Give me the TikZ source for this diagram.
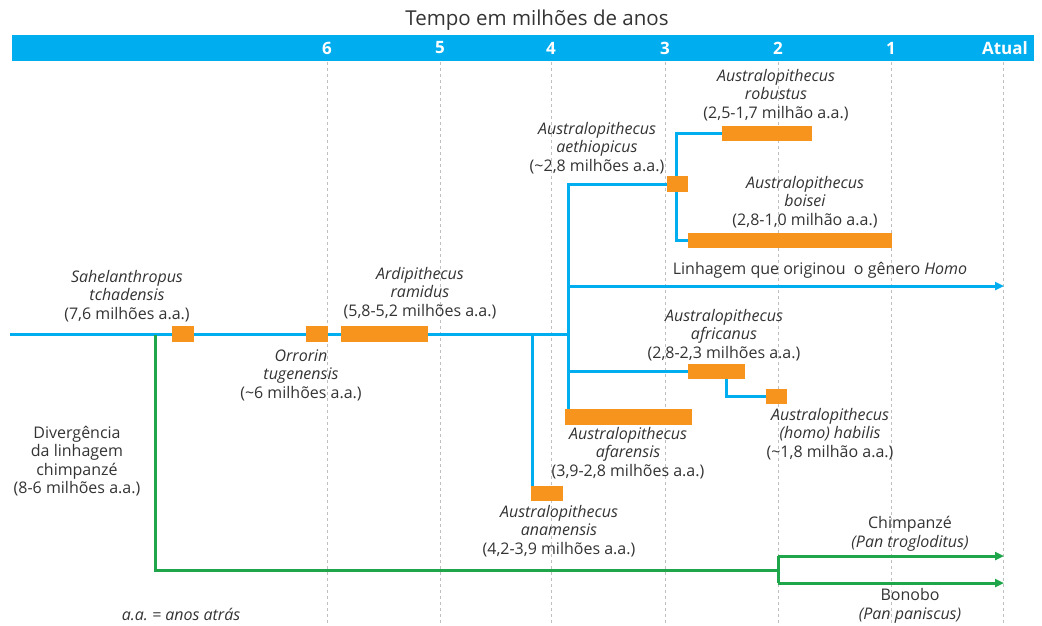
\documentclass[tikz,border=0pt]{standalone}
\usepackage{fontspec}
\setmainfont{Open Sans}
\usetikzlibrary{arrows.meta}
\definecolor{cyanbar}{HTML}{00AEEF}
\definecolor{orangebar}{HTML}{F7941D}
\definecolor{greenline}{HTML}{1FA64A}
\definecolor{txt}{HTML}{333333}
\pgfdeclarelayer{bg}
\pgfsetlayers{bg,main}
\frenchspacing
\begin{document}
\begin{tikzpicture}[x=1pt,y=-1pt,
  bar/.style={fill=orangebar, inner sep=0, minimum height=16pt, draw=none},
  bl/.style={draw=cyanbar, line width=3pt},
  gl/.style={draw=greenline, line width=3pt},
  lbl/.style={align=center, text=txt, inner sep=0, font=\fontsize{16}{18.5}\selectfont},
  tick/.style={text=white, inner sep=0, font=\bfseries\fontsize{17}{18}\selectfont},
  gridline/.style={draw=gray!50, line width=0.9pt, dash pattern=on 3pt off 3pt},
  tip/.style={-{Triangle[length=9pt,width=8pt]}}]
\useasboundingbox (0,0) rectangle (1042,625);

% time axis
\node[fill=cyanbar, minimum width=1022pt, minimum height=26pt, inner sep=0, anchor=north west] (axis) at (12,35) {};
\foreach \x/\t in {327/6,440/5,551/4,665/3,778/2,891/1}
  \node[tick] (t\t) at (\x,48) {\t};
\node[tick, anchor=east] (tA) at (1028,48) {Atual};
\node[lbl, font=\fontsize{20.5}{22}\selectfont] (title) at (537,20) {Tempo em milhões de anos};

% coordinates
\coordinate (start) at (10,334);
\coordinate (split) at (568,334);
\coordinate (vtop) at (568,184);
\coordinate (vbot) at (568,410);
\coordinate (anaTop) at (532,334);
\coordinate (rj) at (676,133.5);
\coordinate (bj) at (676,240.5);
\coordinate (homoS) at (568,286);
\coordinate (homoE) at (1004,286);
\coordinate (afrS) at (568,371.5);
\coordinate (gtop) at (155,335);
\coordinate (gcorner) at (155,570);
\coordinate (gsplit) at (778,570);
\coordinate (cS) at (778,556);
\coordinate (bS) at (778,583);
\coordinate (cE) at (1004,556);
\coordinate (bE) at (1004,583);

% bars
\node[bar, minimum width=22pt] (sah) at (183,334) {};
\node[bar, minimum width=22pt] (orr) at (317,334) {};
\node[bar, minimum width=87pt] (ardi) at (384.5,334) {};
\node[bar, minimum width=21pt] (aeth) at (677.5,184) {};
\node[bar, minimum width=90pt, minimum height=15pt] (rob) at (767,133.5) {};
\node[bar, minimum width=204pt, minimum height=15pt] (boi) at (790,240.5) {};
\node[bar, minimum width=57pt, minimum height=15pt] (afr) at (716.5,371.5) {};
\node[bar, minimum width=21pt, minimum height=15pt] (hab) at (776.5,396.5) {};
\node[bar, minimum width=127pt] (afa) at (628.5,417) {};
\node[bar, minimum width=32pt, minimum height=15pt] (ana) at (547,493.5) {};

\begin{pgfonlayer}{bg}
  \foreach \x in {327,440,551,665,778,891,1003}
    \draw[gridline] (\x,62) -- (\x,625);
  \draw[bl] (start) -- (sah.west);
  \draw[bl] (sah.east) -- (orr.west);
  \draw[bl] (orr.east) -- (ardi.west);
  \draw[bl] (ardi.east) -- (split);
  \draw[bl] (aeth.west) -- (vtop) -- (vbot);
  \draw[bl] (rob.west) -- (rj) -- (bj) -- (boi.west);
  \draw[bl] (anaTop) -- (anaTop |- ana.north);
  \draw[bl, tip] (homoS) -- (homoE);
  \draw[bl] (afrS) -- (afr.west);
  \draw[bl] ([xshift=9.5pt]afr.south) |- (hab.west);
  \draw[gl] (gtop) -- (gcorner) -- (gsplit);
  \draw[gl] (cS) -- (bS);
  \draw[gl, tip] (cS) -- (cE);
  \draw[gl, tip] (bS) -- (bE);
\end{pgfonlayer}

% labels
\node[lbl] (sahL) at (127,296) {\textit{Sahelanthropus}\\\textit{tchadensis}\\(7,6 milhões a.a.)};
\node[lbl] (orrL) at (301,375) {\textit{Orrorin}\\\textit{tugenensis}\\(\textasciitilde6 milhões a.a.)};
\node[lbl] (ardiL) at (420,293) {\textit{Ardipithecus}\\\textit{ramidus}\\(5,8-5,2 milhões a.a.)};
\node[lbl] (aethL) at (597,148) {\textit{Australopithecus}\\\textit{aethiopicus}\\(\textasciitilde2,8 milhões a.a.)};
\node[lbl] (robL) at (776,95) {\textit{Australopithecus}\\\textit{robustus}\\(2,5-1,7 milhão a.a.)};
\node[lbl] (boiL) at (805,202) {\textit{Australopithecus}\\\textit{boisei}\\(2,8-1,0 milhão a.a.)};
\node[lbl] (homoL) at (820,270) {Linhagem que originou\ \ o gênero \textit{Homo}};
\node[lbl] (afrL) at (724,335) {\textit{Australopithecus}\\\textit{africanus}\\(2,8-2,3 milhões a.a.)};
\node[lbl] (afaL) at (628,453) {\textit{Australopithecus}\\\textit{afarensis}\\(3,9-2,8 milhões a.a.)};
\node[lbl] (habL) at (830,434) {\textit{Australopithecus}\\\textit{(homo) habilis}\\(\textasciitilde1,8 milhão a.a.)};
\node[lbl] (anaL) at (559,531) {\textit{Australopithecus}\\\textit{anamensis}\\(4,2-3,9 milhões a.a.)};
\node[lbl] (divL) at (77,461) {Divergência\\da linhagem\\chimpanzé\\(8-6 milhões a.a.)};
\node[lbl] (chimpL) at (910,534) {Chimpanzé\\\textit{(Pan trogloditus)}};
\node[lbl] (bonL) at (910,606) {Bonobo\\\textit{(Pan paniscus)}};
\node[lbl] (aaL) at (181,614) {\textit{a.a. = anos atrás}};
\end{tikzpicture}
\end{document}
